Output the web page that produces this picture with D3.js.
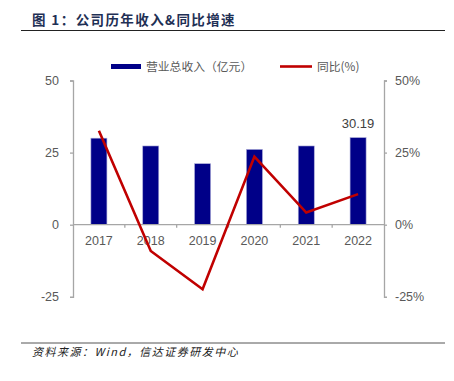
<!DOCTYPE html>
<html><head><meta charset="utf-8">
<script src="https://cdn.jsdelivr.net/npm/d3@7"></script>
<style>body{margin:0;background:#fff;} svg{display:block;}</style>
</head><body>
<svg id="c" width="454" height="381"></svg>
<script>
const years = ["2017","2018","2019","2020","2021","2022"];
const revenue = [30.0, 27.3, 21.15, 26.1, 27.3, 30.19];
const growth = [32.6, -9.1, -22.4, 23.6, 4.2, 10.6];
const leftTicks = [-25, 0, 25, 50];
const rightTicks = [-25, 0, 25, 50];
const titleText = "图 1：公司历年收入&同比增速";
const sourceText = "资料来源：Wind，信达证券研发中心";
const legendLabels = ["营业总收入（亿元）", "同比(%)"];

(function(){
const svg = d3.select("#c");
const pL = 73, pR = 384, pT = 80.5, pB = 296.8;
const x = d3.scaleBand().domain(years).range([pL, pR]);
const yL = d3.scaleLinear().domain([-25, 50]).range([pB, pT]);
const yR = d3.scaleLinear().domain([-25, 50]).range([pB, pT]);
const font = "'Liberation Sans', Arial, sans-serif";
const cjk = "'Noto Sans CJK SC', sans-serif";
const axisCol = "#a6a6a6", textCol = "#595959";

// title
svg.append("text").attr("x", 32).attr("y", 25).text(titleText)
  .attr("font-family", cjk).attr("font-weight", "bold").attr("font-size", 13.5)
  .attr("fill", "#1f3055").attr("letter-spacing", 1.4);
svg.append("line").attr("x1", 21).attr("x2", 445).attr("y1", 30.5).attr("y2", 30.5)
  .attr("stroke", "#222").attr("stroke-width", 1);

// bars
const bw = 16;
svg.append("g").selectAll("rect").data(years).join("rect")
  .attr("x", d => x(d) + x.bandwidth()/2 - bw/2)
  .attr("width", bw)
  .attr("y", (d,i) => yL(revenue[i]))
  .attr("height", (d,i) => yL(0) - yL(revenue[i]))
  .attr("fill", "#000088").attr("stroke", "#a8a8d8").attr("stroke-width", 0.6);

// left axis
const gL = svg.append("g").attr("transform", `translate(${pL},0)`)
  .call(d3.axisLeft(yL).tickValues(leftTicks).tickSize(3).tickPadding(11).tickFormat(d => String(d)));
// right axis
const gR = svg.append("g").attr("transform", `translate(${pR},0)`)
  .call(d3.axisRight(yR).tickValues(rightTicks).tickSize(3).tickPadding(8).tickFormat(d => String(d) + "%"));
// x axis at zero
const gX = svg.append("g").attr("transform", `translate(0,${yL(0)})`)
  .call(d3.axisBottom(x).tickSize(0).tickPadding(11));
[gL, gR, gX].forEach(g => {
  g.selectAll("path,line").attr("stroke", axisCol).attr("stroke-width", 1.3);
  g.selectAll("text").attr("font-family", font).attr("font-size", 12.5).attr("fill", textCol);
});
gX.select("path").attr("d", `M${pL},0H${pR}`);
// category separator ticks
gX.selectAll("line.sep").data(years.slice(1)).join("line").attr("class", "sep")
  .attr("x1", d => x(d)).attr("x2", d => x(d)).attr("y1", 0).attr("y2", 3)
  .attr("stroke", axisCol).attr("stroke-width", 1.3);

// growth line
const line = d3.line().x((d,i) => x(years[i]) + x.bandwidth()/2).y(d => yR(d));
svg.append("path").datum(growth).attr("d", line)
  .attr("fill", "none").attr("stroke", "#c00000").attr("stroke-width", 2.6);

// data label
svg.append("text").attr("x", x("2022") + x.bandwidth()/2).attr("y", yL(revenue[5]) - 10)
  .attr("text-anchor", "middle").text(d3.format(".2f")(revenue[5]))
  .attr("font-family", font).attr("font-size", 13).attr("fill", "#404040");

// legend
const lg = svg.append("g");
lg.append("rect").attr("x", 111).attr("y", 64).attr("width", 30).attr("height", 5).attr("fill", "#000088");
lg.append("text").attr("x", 146).attr("y", 70.5).text(legendLabels[0])
  .attr("font-family", cjk).attr("font-size", 11.8).attr("fill", textCol);
lg.append("line").attr("x1", 280).attr("x2", 312).attr("y1", 66.5).attr("y2", 66.5)
  .attr("stroke", "#c00000").attr("stroke-width", 2.6);
lg.append("text").attr("x", 317).attr("y", 70.5).text(legendLabels[1])
  .attr("font-family", cjk).attr("font-size", 11.8).attr("fill", textCol);

// footer
svg.append("line").attr("x1", 21).attr("x2", 445).attr("y1", 343).attr("y2", 343)
  .attr("stroke", "#555").attr("stroke-width", 1);
svg.append("text").attr("x", 32).attr("y", 356).text(sourceText)
  .attr("font-family", cjk).attr("font-size", 11).attr("font-style", "italic")
  .attr("fill", "#222").attr("letter-spacing", 1.5);
})();
</script>
</body></html>
